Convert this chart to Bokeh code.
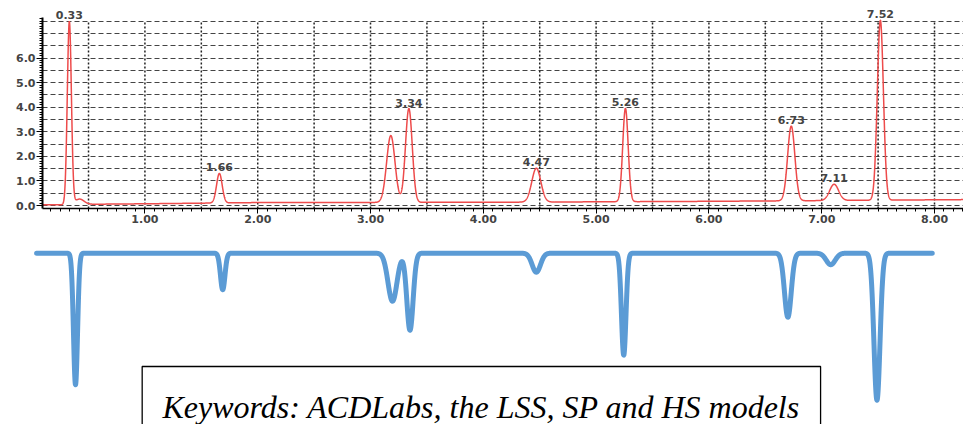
import numpy as np
from bokeh.plotting import figure
from bokeh.models import (Range1d, FixedTicker, PrintfTickFormatter, ColumnDataSource,
                          LabelSet, Label, BoxAnnotation)
from bokeh.core.properties import value
from bokeh.embed import file_html
from bokeh.resources import INLINE

# ---------------- data ----------------
# Red (measured) chromatogram: peaks above a drifting baseline
PEAK_RT = [0.33, 0.42, 1.66, 3.18, 3.34, 4.47, 5.26, 6.73, 7.11, 7.52]
PEAK_H = [7.45, 0.22, 1.20, 2.72, 3.82, 1.38, 3.80, 3.04, 0.66, 7.32]
PEAK_SIGMA = [0.018, 0.04, 0.025, 0.037, 0.03, 0.04, 0.024, 0.032, 0.04, 0.027]
BASE_T = [0.09, 0.29, 0.5, 1.0, 2.0, 4.0, 6.0, 7.0, 8.26]
BASE_Y = [0.03, 0.03, 0.05, 0.07, 0.12, 0.13, 0.17, 0.20, 0.24]
LABEL_RT = [0.33, 1.66, 3.34, 4.47, 5.26, 6.73, 7.11, 7.52]
LABEL_TEXT = ["0.33", "1.66", "3.34", "4.47", "5.26", "6.73", "7.11", "7.52"]

X_TICKS = [1, 2, 3, 4, 5, 6, 7, 8]
Y_TICKS = [0, 1, 2, 3, 4, 5, 6]
GRID_STEP = 0.5
GRID_TOP = 7.5

# Blue (simulated) chromatogram, drawn inverted
BLUE_RT = [0.385, 1.69, 3.195, 3.35, 4.47, 5.245, 6.70, 7.08, 7.49]
BLUE_DEPTH = [131.5, 36.5, 48.0, 77.0, 19.0, 102.0, 64.0, 11.5, 147.0]
BLUE_SIGMA = [0.018, 0.02, 0.040, 0.028, 0.037, 0.02, 0.03, 0.04, 0.027]
BLUE_START, BLUE_END = 0.04, 7.98

KEYWORDS = "Keywords: ACDLabs, the LSS, SP and HS models"

# ---------------- build curves from the peak tables ----------------
X0, X1 = 0.092, 8.257
Y0, Y_AXIS_TOP, Y1 = -0.122, 7.65, 8.18

t = np.linspace(X0, X1, 6000)
red = np.interp(t, BASE_T, BASE_Y)
for c, h, s in zip(PEAK_RT, PEAK_H, PEAK_SIGMA):
    red = red + h * np.exp(-0.5 * ((t - c) / s) ** 2)

lab_y = [float(red[np.abs(t - rt) < 0.05].max()) for rt in LABEL_RT]

t2 = np.linspace(BLUE_START, BLUE_END, 6000)
blue = np.zeros_like(t2)
for c, d, s in zip(BLUE_RT, BLUE_DEPTH, BLUE_SIGMA):
    blue = blue - d * np.exp(-0.5 * ((t2 - c) / s) ** 2)

# ---------------- top chart ----------------
p1 = figure(width=963, height=228, x_range=Range1d(X0, X1),
            y_range=Range1d(Y0, Y1), output_backend="svg",
            toolbar_location=None, min_border_left=42, min_border_right=0,
            min_border_top=4, min_border_bottom=20)
p1.outline_line_color = None

# vertical dotted grid, stopping at the top horizontal grid line
p1.xgrid.visible = False
vgrid = [k * GRID_STEP for k in range(1, int(X1 / GRID_STEP) + 1)]
p1.segment(x0=vgrid, y0=[Y0] * len(vgrid), x1=vgrid, y1=[GRID_TOP] * len(vgrid),
           line_color="#222222", line_dash="2 2", line_width=1.5)

p1.ygrid.ticker = FixedTicker(ticks=[k * GRID_STEP for k in range(0, int(GRID_TOP / GRID_STEP) + 1)])
p1.ygrid.grid_line_color = "#444444"
p1.ygrid.grid_line_dash = "5 3"
p1.ygrid.grid_line_width = 1

p1.xaxis.ticker = FixedTicker(ticks=X_TICKS, minor_ticks=[k / 12 for k in range(2, 100)])
p1.xaxis.formatter = PrintfTickFormatter(format="%.2f")
p1.yaxis.ticker = FixedTicker(ticks=Y_TICKS, minor_ticks=[k / 10 for k in range(0, 77)])
p1.yaxis.formatter = PrintfTickFormatter(format="%.1f")
p1.yaxis.bounds = (Y0, Y_AXIS_TOP)
for ax in (p1.xaxis[0], p1.yaxis[0]):
    ax.axis_line_color = "black"
    ax.major_tick_line_color = "black"
    ax.minor_tick_line_color = "black"
    ax.major_tick_in = 0
    ax.minor_tick_in = 0
    ax.major_label_text_font = "DejaVu Sans"
    ax.major_label_text_font_style = "bold"
    ax.major_label_text_font_size = "11px"
    ax.major_label_text_color = "#444444"
p1.xaxis.axis_line_width = 1.5
p1.xaxis.major_tick_out = 5
p1.xaxis.minor_tick_out = 3
p1.xaxis.major_label_standoff = 1
p1.yaxis.axis_line_width = 2
p1.yaxis.major_tick_out = 6
p1.yaxis.minor_tick_out = 3
p1.yaxis.major_label_standoff = 1

p1.line(t, red, line_color="#ee4b4b", line_width=1.5)

lab_src = ColumnDataSource(dict(x=LABEL_RT, y=lab_y, text=LABEL_TEXT))
p1.add_layout(LabelSet(x="x", y="y", text="text", source=lab_src,
                       text_align="center", text_baseline="bottom", y_offset=2,
                       text_font=value("DejaVu Sans"), text_font_style="bold",
                       text_font_size="11px", text_color="#444444"))

# ---------------- bottom chart ----------------
p2 = figure(width=963, height=196, x_range=Range1d(-0.280, X1),
            y_range=Range1d(-171.3, 24.7), output_backend="svg",
            toolbar_location=None, min_border=0,
            x_axis_location=None, y_axis_location=None)
p2.outline_line_color = None
p2.grid.visible = False
p2.line(t2, blue, line_color="#5b9bd5", line_width=5, line_cap="round", line_join="round")

p2.add_layout(BoxAnnotation(left=0.976, right=6.99, top=-113.3, bottom=-400,
                            fill_color="white", fill_alpha=1.0,
                            line_color="black", line_alpha=1.0, line_width=1.3))
p2.add_layout(Label(x=3.983, y=-154, text=KEYWORDS, text_align="center",
                    text_baseline="alphabetic", text_font="Liberation Serif",
                    text_font_style="italic", text_font_size="32px",
                    text_color="black"))

open("out.html", "w").write(file_html([p1, p2], INLINE))
